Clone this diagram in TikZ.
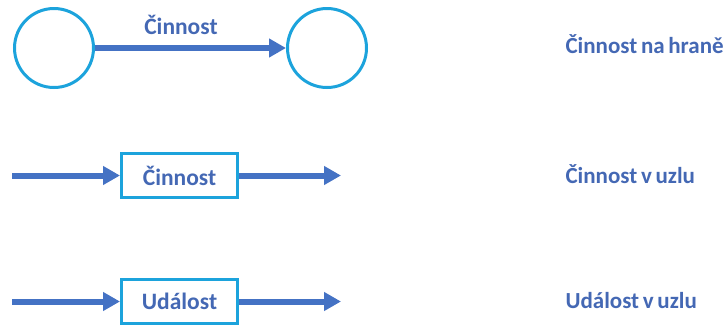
\documentclass[tikz,border=0pt]{standalone}
\usepackage{fontspec}
\setmainfont{Carlito}
\usepackage{xcolor}
\usetikzlibrary{arrows.meta,positioning}
\definecolor{flowblue}{HTML}{4472C4}
\definecolor{nodecyan}{HTML}{1CA3DC}
\definecolor{labelblue}{HTML}{4468B4}
\newcommand{\tightwords}{\setlength{\spaceskip}{0.16em}}

\begin{document}
\begin{tikzpicture}[
			x=1pt,
			y=-1pt,
			event/.style={
				circle,
				draw=nodecyan,
				line width=3pt,
				minimum size=79pt,
				inner sep=0pt
			},
			taskbox/.style={
				rectangle,
				draw=nodecyan,
				line width=3pt,
				minimum width=116pt,
				minimum height=44pt,
				inner sep=0pt,
				text=labelblue,
				font=\fontsize{23.5}{26}\selectfont\bfseries
			},
			caption/.style={
				anchor=base west,
				text=labelblue,
				font=\fontsize{23}{26}\selectfont\bfseries
			},
			flow/.style={-{Triangle[length=17pt,width=18pt]}, line width=6pt, draw=flowblue}
			]
			\useasboundingbox (0,0) rectangle (726,325);
			% Activity on edge
			\node[event] (start) at (54,48) {};
			\node[event] (finish) at (327,48) {};
			\draw[flow] (start.east) -- node[pos=0.45, above=7pt, text=labelblue, font=\fontsize{23.5}{26}\selectfont\bfseries] (edgelabel) {Činnost} (finish.west);
			\node[caption] (aoe) at (562,53) {\tightwords Činnost na hraně};
			% Activity in node
			\node[taskbox] (task) at (179.5,175.5) {Činnost};
			\coordinate (taskin) at (12,175.5);
			\coordinate (taskout) at (341,175.5);
			\draw[flow] (taskin) -- (task.west);
			\draw[flow] (task.east) -- (taskout);
			\node[caption] (aon) at (562,183) {\tightwords Činnost v uzlu};
			% Event in node
			\node[taskbox] (event) at (179.5,301.5) {Událost};
			\coordinate (eventin) at (12,301.5);
			\coordinate (eventout) at (341,301.5);
			\draw[flow] (eventin) -- (event.west);
			\draw[flow] (event.east) -- (eventout);
			\node[caption] (ein) at (562,308) {\tightwords Událost v uzlu};
		\end{tikzpicture}
\end{document}
